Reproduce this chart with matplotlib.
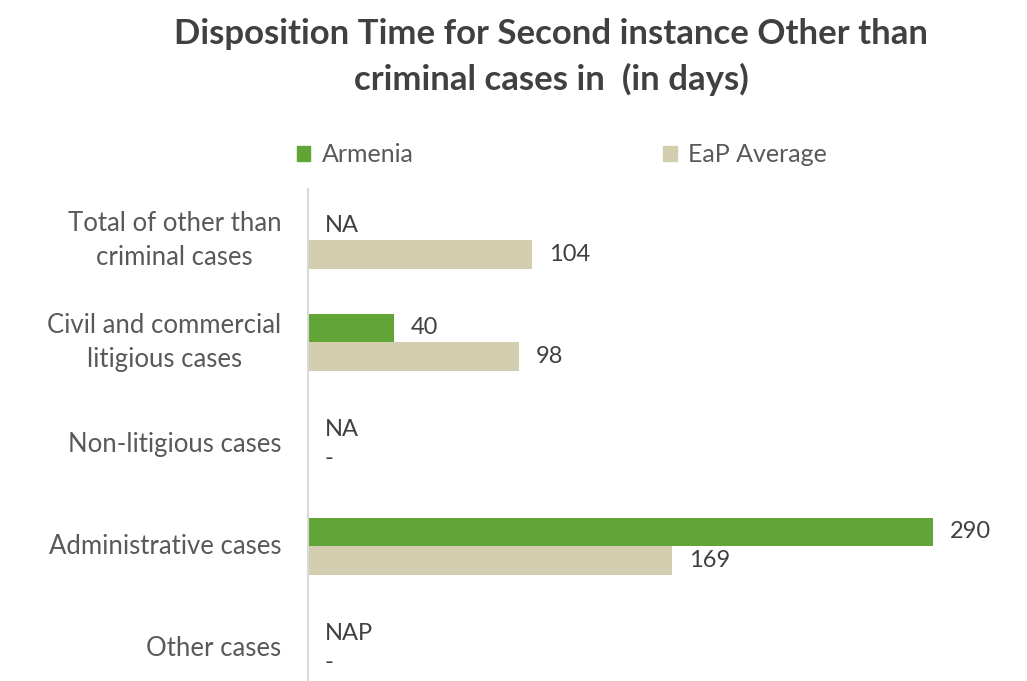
import matplotlib.pyplot as plt
from matplotlib.patches import Patch

categories = [
    "Total of other than\ncriminal cases",
    "Civil and commercial\nlitigious cases",
    "Non-litigious cases",
    "Administrative cases",
    "Other cases",
]
armenia = [None, 40, None, 290, None]
armenia_text = ["NA", None, "NA", None, "NAP"]
eap_avg = [104, 98, None, 169, None]
eap_text = [None, None, "-", None, "-"]

GREEN = "#62A537"
BEIGE = "#D4CEB0"
TXT = "#404040"
LBL = "#595959"
FONT = ["Lato", "DejaVu Sans"]

plt.rcParams["font.family"] = FONT

fig = plt.figure(figsize=(10.27, 6.81), dpi=100)
W, H = 1027, 681
ax = fig.add_axes([308 / W, 0, (1000 - 308) / W, (681 - 189) / H])

step = 102.0
top_px = 189
y0 = 240
ylim_top = (top_px - y0) / step
ylim_bot = (681 - y0) / step
bh = 28.5 / step
off = bh / 2

ax.set_xlim(0, (1000 - 308) / 2.155)
ax.set_ylim(ylim_bot, ylim_top)

VFS = 17
label_pad = 17 / 2.155
na_x = 17 / 2.155
for i in range(len(categories)):
    ya = i - off
    ye = i + off
    if armenia[i] is not None:
        ax.barh(ya, armenia[i], height=bh, color=GREEN)
        ax.text(armenia[i] + label_pad, ya, f"{armenia[i]}", va="center", ha="left",
                fontsize=VFS, color=TXT)
    elif armenia_text[i]:
        ax.text(na_x, ya, armenia_text[i], va="center", ha="left", fontsize=VFS, color=TXT)
    if eap_avg[i] is not None:
        ax.barh(ye, eap_avg[i], height=bh, color=BEIGE)
        ax.text(eap_avg[i] + label_pad, ye, f"{eap_avg[i]}", va="center", ha="left",
                fontsize=VFS, color=TXT)
    elif eap_text[i]:
        ax.text(na_x, ye, eap_text[i], va="center", ha="left", fontsize=VFS, color=TXT)

ax.set_yticks(range(len(categories)))
ax.set_yticklabels(categories, fontsize=18.5, color=LBL, multialignment="center",
                   linespacing=1.45, va="center")
ax.tick_params(axis="y", length=0, pad=19)
ax.set_xticks([])
for s in ["top", "right", "bottom"]:
    ax.spines[s].set_visible(False)
ax.spines["left"].set_color("#D9D9D9")
ax.spines["left"].set_linewidth(1.5)

fig.text(551 / W, 1 - 57 / H, "Disposition Time for Second instance Other than\ncriminal cases in  (in days)",
         ha="center", va="center", fontsize=25, fontweight="bold", color=TXT,
         linespacing=1.45)

handles = [Patch(color=GREEN, label="Armenia"), Patch(color=BEIGE, label="EaP Average")]
fig.legend(handles=handles, loc="center left", bbox_to_anchor=(274 / W, 1 - 155 / H), ncol=2,
           frameon=False, fontsize=18, handlelength=0.55, handleheight=0.55,
           handletextpad=0.45, columnspacing=10.0, labelcolor=LBL)

fig.savefig("out.png", dpi=100, facecolor="white")
